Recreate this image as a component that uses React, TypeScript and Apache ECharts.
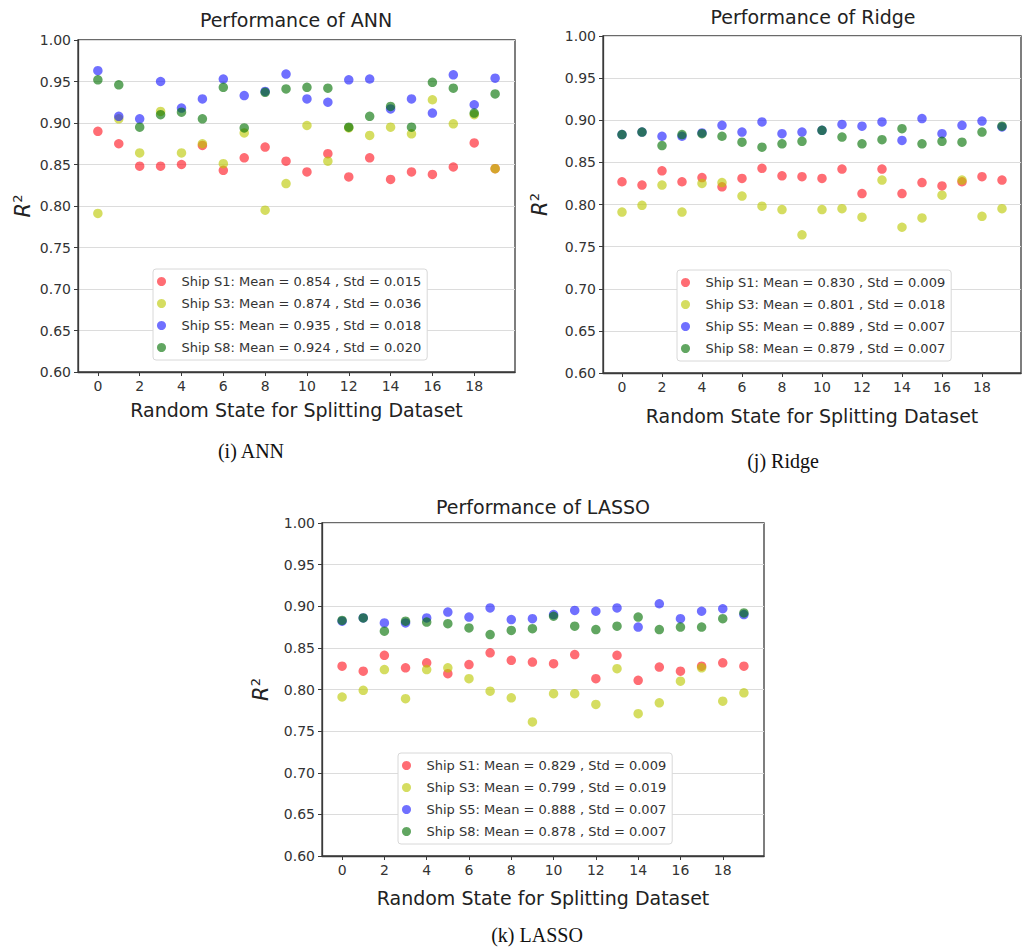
import React, { useEffect, useRef } from "react";
import * as echarts from "echarts";

// ---------- data ----------
const randomStates = [0, 1, 2, 3, 4, 5, 6, 7, 8, 9, 10, 11, 12, 13, 14, 15, 16, 17, 18, 19];
const xTickValues = [0, 2, 4, 6, 8, 10, 12, 14, 16, 18];

const panelTitles = ["Performance of ANN", "Performance of Ridge", "Performance of LASSO"];
const panelCaptions = ["(i) ANN", "(j) Ridge", "(k) LASSO"];
const shipNames = ["Ship S1", "Ship S3", "Ship S5", "Ship S8"];

const annMeans = ["0.854", "0.874", "0.935", "0.924"];
const annStds = ["0.015", "0.036", "0.018", "0.020"];
const ridgeMeans = ["0.830", "0.801", "0.889", "0.879"];
const ridgeStds = ["0.009", "0.018", "0.007", "0.007"];
const lassoMeans = ["0.829", "0.799", "0.888", "0.878"];
const lassoStds = ["0.009", "0.019", "0.007", "0.007"];

const annS1 = [0.890, 0.875, 0.848, 0.848, 0.850, 0.873, 0.843, 0.858, 0.871, 0.854, 0.841, 0.863, 0.835, 0.858, 0.832, 0.841, 0.838, 0.847, 0.876, 0.845];
const annS3 = [0.791, 0.905, 0.864, 0.914, 0.864, 0.875, 0.851, 0.888, 0.795, 0.827, 0.897, 0.854, 0.894, 0.885, 0.895, 0.887, 0.928, 0.899, 0.910, 0.845];
const annS5 = [0.963, 0.908, 0.905, 0.950, 0.918, 0.929, 0.953, 0.933, 0.938, 0.959, 0.929, 0.925, 0.952, 0.953, 0.917, 0.929, 0.912, 0.958, 0.922, 0.954];
const annS8 = [0.952, 0.946, 0.895, 0.910, 0.913, 0.905, 0.943, 0.894, 0.937, 0.941, 0.943, 0.942, 0.895, 0.908, 0.920, 0.895, 0.949, 0.942, 0.912, 0.935];

const ridgeS1 = [0.827, 0.823, 0.840, 0.827, 0.832, 0.821, 0.831, 0.843, 0.834, 0.833, 0.831, 0.842, 0.813, 0.842, 0.813, 0.826, 0.822, 0.827, 0.833, 0.829];
const ridgeS3 = [0.791, 0.799, 0.823, 0.791, 0.825, 0.826, 0.810, 0.798, 0.794, 0.764, 0.794, 0.795, 0.785, 0.829, 0.773, 0.784, 0.811, 0.829, 0.786, 0.795];
const ridgeS5 = [0.883, 0.886, 0.881, 0.881, 0.885, 0.894, 0.886, 0.898, 0.884, 0.886, 0.888, 0.895, 0.893, 0.898, 0.876, 0.902, 0.884, 0.894, 0.899, 0.892];
const ridgeS8 = [0.883, 0.886, 0.870, 0.883, 0.884, 0.881, 0.874, 0.868, 0.872, 0.875, 0.888, 0.880, 0.872, 0.877, 0.890, 0.872, 0.875, 0.874, 0.886, 0.893];

const lassoS1 = [0.828, 0.822, 0.841, 0.826, 0.832, 0.819, 0.830, 0.844, 0.835, 0.833, 0.831, 0.842, 0.813, 0.841, 0.811, 0.827, 0.822, 0.828, 0.832, 0.828];
const lassoS3 = [0.791, 0.799, 0.824, 0.789, 0.824, 0.826, 0.813, 0.798, 0.790, 0.761, 0.795, 0.795, 0.782, 0.825, 0.771, 0.784, 0.810, 0.826, 0.786, 0.796];
const lassoS5 = [0.882, 0.886, 0.880, 0.880, 0.886, 0.893, 0.887, 0.898, 0.884, 0.885, 0.890, 0.895, 0.894, 0.898, 0.875, 0.903, 0.885, 0.894, 0.897, 0.890];
const lassoS8 = [0.883, 0.886, 0.870, 0.882, 0.881, 0.879, 0.874, 0.866, 0.871, 0.873, 0.888, 0.876, 0.872, 0.876, 0.887, 0.872, 0.875, 0.875, 0.885, 0.892];

const shipColors = ["rgb(255,20,30)", "rgb(188,200,0)", "rgb(25,25,255)", "rgb(0,112,0)"];

// ---------- layout ----------
const FONT = "'DejaVu Sans', Verdana, sans-serif";
const SERIF = "'Liberation Serif', 'Times New Roman', serif";

const panels = [
  {
    grid: { left: 78, top: 40, width: 437, height: 332 },
    series: [annS1, annS3, annS5, annS8], means: annMeans, stds: annStds,
    legend: { left: 153, top: 269 }, yNameGap: 44, xNameGap: 28,
    title: [296, 20], caption: [251, 451],
  },
  {
    grid: { left: 603, top: 36, width: 418, height: 337 },
    series: [ridgeS1, ridgeS3, ridgeS5, ridgeS8], means: ridgeMeans, stds: ridgeStds,
    legend: { left: 677, top: 270 }, yNameGap: 52, xNameGap: 33,
    title: [813, 17], caption: [783, 461],
  },
  {
    grid: { left: 322, top: 523, width: 442, height: 333 },
    series: [lassoS1, lassoS3, lassoS5, lassoS8], means: lassoMeans, stds: lassoStds,
    legend: { left: 398, top: 753 }, yNameGap: 50, xNameGap: 32,
    title: [543, 507], caption: [537, 935],
  },
];

function buildOption() {
  const grids: any[] = [];
  const xAxes: any[] = [];
  const yAxes: any[] = [];
  const series: any[] = [];
  const legends: any[] = [];
  const graphics: any[] = [];

  panels.forEach((p, k) => {
    grids.push({
      ...p.grid,
      show: true,
      borderColor: "#3a3a3a",
      borderWidth: 1.3,
      backgroundColor: "transparent",
    });
    xAxes.push({
      gridIndex: k,
      type: "value",
      min: -0.95,
      max: 19.95,
      axisLine: { show: true, onZero: false, lineStyle: { color: "#3a3a3a", width: 1.3 } },
      axisTick: { show: true, customValues: xTickValues, length: 4, lineStyle: { color: "#3a3a3a" } },
      axisLabel: { customValues: xTickValues, fontSize: 14, color: "#333", fontFamily: FONT, margin: 7 },
      splitLine: { show: false },
      name: "Random State for Splitting Dataset",
      nameLocation: "middle",
      nameGap: p.xNameGap,
      nameTextStyle: { fontSize: 19, color: "#222", fontFamily: FONT },
    });
    yAxes.push({
      gridIndex: k,
      type: "value",
      min: 0.6,
      max: 1.0,
      interval: 0.05,
      axisLine: { show: true, onZero: false, lineStyle: { color: "#3a3a3a", width: 1.3 } },
      axisTick: { show: true, length: 4, lineStyle: { color: "#3a3a3a" } },
      axisLabel: {
        fontSize: 14, color: "#333", fontFamily: FONT, margin: 7,
        formatter: (v: number) => v.toFixed(2),
      },
      splitLine: { show: true, lineStyle: { color: "#dcdcdc", width: 1 } },
      name: "{r|R}{s|2}",
      nameLocation: "middle",
      nameRotate: 90,
      nameGap: p.yNameGap,
      nameTextStyle: {
        rich: {
          r: { fontSize: 21, fontStyle: "italic", color: "#222", fontFamily: FONT },
          s: { fontSize: 13, color: "#222", fontFamily: FONT, verticalAlign: "top", padding: [0, 0, 10, 0] },
        },
      },
    });
    const names: string[] = [];
    p.series.forEach((vals, j) => {
      const name = `${shipNames[j]}: Mean = ${p.means[j]} , Std = ${p.stds[j]}`;
      names.push(name);
      series.push({
        type: "scatter",
        name,
        xAxisIndex: k,
        yAxisIndex: k,
        symbol: "circle",
        symbolSize: 9.5,
        itemStyle: { color: shipColors[j], opacity: 0.62 },
        data: randomStates.map((x, i) => [x, vals[i]]),
      });
    });
    legends.push({
      data: names,
      orient: "vertical",
      left: p.legend.left,
      top: p.legend.top,
      icon: "circle",
      itemWidth: 30,
      itemHeight: 9,
      itemGap: 9,
      padding: [6, 6, 6, 4],
      backgroundColor: "#ffffff",
      borderColor: "#d8d8d8",
      borderWidth: 1,
      borderRadius: 3,
      selectedMode: false,
      textStyle: { fontSize: 13, color: "#333", fontFamily: FONT },
    });
    graphics.push({
      type: "text",
      x: p.title[0],
      y: p.title[1],
      style: {
        text: panelTitles[k],
        font: `19px ${FONT}`,
        fill: "#222",
        textAlign: "center",
        textVerticalAlign: "middle",
      },
    });
    graphics.push({
      type: "text",
      x: p.caption[0],
      y: p.caption[1],
      style: {
        text: panelCaptions[k],
        font: `20px ${SERIF}`,
        fill: "#111",
        textAlign: "center",
        textVerticalAlign: "middle",
      },
    });
  });

  return {
    animation: false,
    backgroundColor: "#ffffff",
    grid: grids,
    xAxis: xAxes,
    yAxis: yAxes,
    legend: legends,
    series,
    graphic: graphics,
  };
}

export default function App() {
  const ref = useRef<HTMLDivElement>(null);
  useEffect(() => {
    if (!ref.current) return;
    const chart = echarts.init(ref.current, undefined, { renderer: "svg" });
    chart.setOption(buildOption() as any);
    return () => chart.dispose();
  }, []);
  return (
    <div
      ref={ref}
      style={{ position: "absolute", left: 0, top: 0, width: 1025, height: 952 }}
    />
  );
}
